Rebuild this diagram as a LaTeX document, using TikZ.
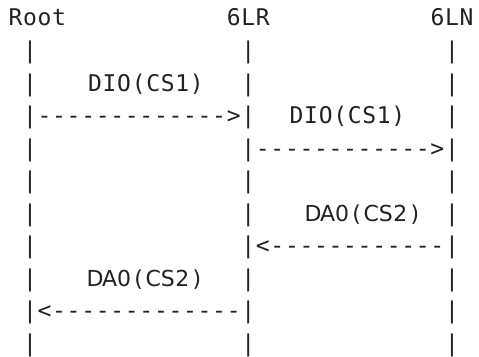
\documentclass[tikz,border=0pt]{standalone}
\usepackage{fontspec}
\newfontfamily\asciifont{DejaVu Sans Mono}
\newfontfamily\propfont{DejaVu Sans}
\definecolor{ink}{HTML}{222222}
\newlength\cellw
\setlength\cellw{14.55pt}
\newcommand\cellrow[1]{\cellrowA#1\relax}
\def\cellrowA#1{\ifx\relax#1\else\makebox[\cellw][c]{#1}\expandafter\cellrowA\fi}
\tikzset{
  txt/.style={inner sep=0pt, outer sep=0pt, text=ink, font=\asciifont\fontsize{23}{23}\selectfont},
  proptxt/.style={txt, font=\propfont\fontsize{22}{22}\selectfont},
}
\begin{document}
\begin{tikzpicture}[x=1pt, y=-1pt]
  \fill[white] (0,0) rectangle (479,356);
  \useasboundingbox (0,0) rectangle (479,356);
  % header
  \node[txt, anchor=base west] (root) at (8.2,25.9) {\cellrow{Root}};
  \node[txt, anchor=base west] (lr) at (226.45,25.9) {\cellrow{6LR}};
  \node[txt, anchor=base west] (ln) at (430.15,25.9) {\cellrow{6LN}};
  % lifelines
  \foreach \r in {1,...,10} {
    \node[txt, anchor=base west] (a\r) at (22.75, {25.9+32.56*\r}) {\cellrow{|}};
    \node[txt, anchor=base west] (b\r) at (241.0, {25.9+32.56*\r}) {\cellrow{|}};
    \node[txt, anchor=base west] (c\r) at (444.7, {25.9+32.56*\r}) {\cellrow{|}};
  }
  % messages
  \node[txt, anchor=base] (m1) at (146,91.02) {\cellrow{DIO(CS1)}};
  \node[txt, anchor=base west] (ar1) at (37.3,123.58) {\cellrow{------------->}};
  \node[txt, anchor=base] (m2) at (347.5,123.58) {\cellrow{DIO(CS1)}};
  \node[txt, anchor=base west] (ar2) at (255.55,156.14) {\cellrow{------------>}};
  \node[proptxt, anchor=base] (m3) at (364,221.26) {\cellrow{DA0(CS2)}};
  \node[txt, anchor=base west] (ar3) at (255.55,253.82) {\cellrow{<------------}};
  \node[proptxt, anchor=base] (m4) at (146,286.38) {\cellrow{DA0(CS2)}};
  \node[txt, anchor=base west] (ar4) at (37.3,318.94) {\cellrow{<-------------}};
\end{tikzpicture}
\end{document}
